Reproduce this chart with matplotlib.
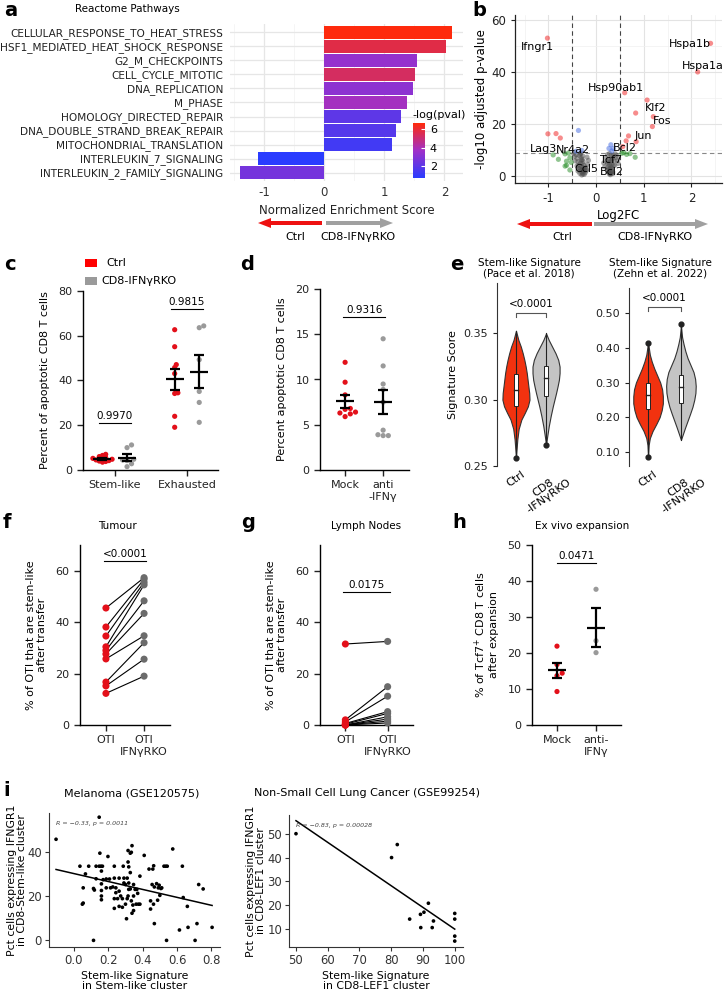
import numpy as np
import matplotlib
matplotlib.use("Agg")
import matplotlib.pyplot as plt
from matplotlib.colors import LinearSegmentedColormap, Normalize
from matplotlib.cm import ScalarMappable
from matplotlib.patches import FancyArrow, Rectangle
from matplotlib.ticker import MultipleLocator

plt.rcParams['font.family'] = ['DejaVu Sans']

# ---------------- data ----------------
# a: Reactome pathways
pathways = ["CELLULAR_RESPONSE_TO_HEAT_STRESS", "HSF1_MEDIATED_HEAT_SHOCK_RESPONSE",
            "G2_M_CHECKPOINTS", "CELL_CYCLE_MITOTIC", "DNA_REPLICATION", "M_PHASE",
            "HOMOLOGY_DIRECTED_REPAIR", "DNA_DOUBLE_STRAND_BREAK_REPAIR",
            "MITOCHONDRIAL_TRANSLATION", "INTERLEUKIN_7_SIGNALING",
            "INTERLEUKIN_2_FAMILY_SIGNALING"]
nes = [2.13, 2.02, 1.54, 1.51, 1.47, 1.38, 1.27, 1.19, 1.13, -1.11, -1.41]
neglogp = [6.6, 5.7, 3.4, 5.3, 3.2, 3.8, 2.0, 1.8, 1.3, 0.7, 2.6]

# b: volcano
red_x = [-1.02, 2.40, 2.13, 0.60, 1.07, 0.83, 1.20, 1.18, 0.68, 0.63, 0.84, -1.01, -0.84, -0.75, 0.56]
red_y = [53.0, 51.0, 40.0, 32.0, 29.2, 24.2, 22.8, 19.0, 15.4, 13.5, 13.2, 16.2, 16.3, 14.6, 11.3]
blue_x = [-0.37, 0.31, 0.27, 0.36, 0.33, -0.42, -0.30]
blue_y = [17.5, 12.0, 10.6, 10.6, 9.6, 9.5, 9.8]
green_x = [-0.90, -0.79, -0.65, -0.62, -0.62, -0.55, -0.65, -0.55, -0.58, -0.52, 0.54, 0.64, 0.82, 0.58, 0.71]
green_y = [8.1, 6.4, 8.5, 5.7, 4.1, 2.3, 3.8, 7.0, 8.8, 5.2, 8.7, 8.3, 7.2, 9.0, 8.6]
gray_x = [-0.45, -0.42, -0.40, -0.38, -0.36, -0.35, -0.34, -0.33, -0.32, -0.31, -0.30, -0.30,
          -0.29, -0.28, -0.28, -0.27, -0.26, -0.25, -0.24, -0.23, -0.22, -0.21, -0.33, -0.31,
          -0.29, -0.27, -0.36, -0.40, -0.44, -0.47, -0.25, -0.30, -0.34, -0.38, -0.32, -0.28,
          -0.18, -0.16, -0.20, -0.19,
          0.20, 0.22, 0.24, 0.25, 0.26, 0.27, 0.28, 0.28, 0.29, 0.30, 0.30, 0.31, 0.32, 0.32,
          0.33, 0.34, 0.35, 0.36, 0.38, 0.40, 0.42, 0.44, 0.26, 0.28, 0.30, 0.32, 0.34, 0.36,
          0.24, 0.27, 0.31, 0.35, 0.39, 0.29, 0.16, 0.18, 0.46, 0.43]
gray_y = [7.5, 8.2, 6.8, 5.5, 4.2, 7.9, 3.1, 5.0, 2.4, 6.1, 1.5, 3.6,
          4.8, 2.2, 0.8, 3.0, 1.8, 4.0, 2.7, 1.2, 3.3, 2.0, 8.4, 7.0,
          6.3, 5.6, 2.8, 3.9, 5.8, 8.6, 0.6, 0.4, 1.0, 1.9, 8.8, 7.7,
          4.5, 6.0, 2.5, 7.2,
          7.0, 5.5, 8.2, 3.6, 1.5, 6.2, 0.8, 4.4, 2.7, 5.1, 1.2, 3.3, 7.6, 2.0,
          4.6, 6.8, 1.6, 3.9, 5.8, 8.5, 7.1, 6.0, 2.3, 8.6, 0.5, 5.9, 2.9, 8.0,
          4.9, 3.0, 1.0, 0.9, 4.1, 6.6, 5.0, 3.5, 4.8, 7.9]
gene_labels = ["Ifngr1", "Hspa1b", "Hspa1a", "Hsp90ab1", "Klf2", "Fos", "Jun",
               "Lag3", "Nr4a2", "Bcl2", "Tcf7", "Bcl2", "Ccl5"]
gene_lx = [-1.22, 1.97, 2.24, 0.41, 1.25, 1.38, 0.99, -1.10, -0.48, 0.61, 0.31, 0.33, -0.20]
gene_ly = [49.7, 50.6, 42.4, 33.7, 26.0, 21.3, 15.5, 10.4, 10.1, 10.6, 6.2, 1.7, 2.7]

# c: apoptotic CD8 T cells
c_groups = ["Stem-like", "Exhausted"]
c_stem_ctrl = [7.0, 6.5, 6.0, 5.5, 5.2, 5.0, 4.8, 4.5, 4.2, 4.0, 3.8, 3.5]
c_stem_ko = [11.2, 10.0, 4.8, 4.5, 4.2, 2.8, 1.5]
c_exh_ctrl = [62.7, 55.1, 47.1, 45.8, 43.1, 34.5, 34.2, 24.0, 19.1]
c_exh_ko = [64.4, 63.6, 49.3, 35.1, 30.2, 21.3]
c_pvals = ["0.9970", "0.9815"]

# d
d_cats = ["Mock", "anti\n-IFNγ"]
d_mock = [11.9, 9.7, 8.3, 6.8, 6.4, 6.2, 5.9, 6.3, 6.7]
d_anti = [14.5, 11.5, 9.5, 8.9, 7.5, 4.4, 3.9, 3.8, 3.8]

# e: violin density profiles (value, relative width) and box stats
e_cats = ["Ctrl", "CD8\n-IFNγRKO"]
pace_ctrl_v = [0.256, 0.262, 0.270, 0.278, 0.285, 0.290, 0.295, 0.300, 0.305, 0.310,
               0.315, 0.320, 0.325, 0.330, 0.335, 0.340, 0.345, 0.352]
pace_ctrl_w = [0.0, 0.04, 0.10, 0.20, 0.40, 0.65, 0.88, 1.0, 0.98, 0.92,
               0.86, 0.80, 0.72, 0.62, 0.50, 0.36, 0.18, 0.0]
pace_ko_v = [0.266, 0.272, 0.280, 0.288, 0.295, 0.300, 0.305, 0.310, 0.315, 0.320,
             0.325, 0.330, 0.335, 0.340, 0.345, 0.350]
pace_ko_w = [0.0, 0.08, 0.20, 0.35, 0.50, 0.62, 0.74, 0.85, 0.95, 1.0,
             1.0, 0.90, 0.70, 0.45, 0.20, 0.0]
pace_ctrl_box = [0.256, 0.295, 0.307, 0.319, 0.352]
pace_ko_box = [0.266, 0.3025, 0.316, 0.3255, 0.350]
zehn_ctrl_v = [0.085, 0.12, 0.14, 0.16, 0.18, 0.20, 0.22, 0.24, 0.26, 0.28, 0.30,
               0.32, 0.34, 0.36, 0.38, 0.40, 0.415]
zehn_ctrl_w = [0.0, 0.04, 0.12, 0.30, 0.55, 0.78, 0.92, 1.0, 1.0, 0.95, 0.82,
               0.62, 0.42, 0.25, 0.12, 0.05, 0.0]
zehn_ko_v = [0.135, 0.15, 0.17, 0.19, 0.21, 0.23, 0.25, 0.27, 0.29, 0.31, 0.33,
             0.35, 0.37, 0.39, 0.41, 0.43, 0.45, 0.465]
zehn_ko_w = [0.0, 0.12, 0.28, 0.45, 0.62, 0.78, 0.90, 0.98, 1.0, 0.96, 0.85,
             0.65, 0.45, 0.30, 0.18, 0.08, 0.03, 0.0]
zehn_ctrl_box = [0.085, 0.225, 0.264, 0.300, 0.415]
zehn_ko_box = [0.135, 0.240, 0.287, 0.322, 0.468]

# f, g: paired OTI
fg_cats = ["OTI", "OTI\nIFNγRKO"]
f_oti = [45.5, 38.1, 34.6, 30.4, 29.0, 27.6, 25.7, 16.7, 15.2, 12.3]
f_ko = [57.3, 56.7, 55.5, 54.5, 48.3, 43.4, 34.7, 32.0, 25.6, 19.0]
g_oti = [31.5, 2.0, 1.2, 0.6, 0.3, 0.0, 0.0, 0.0, 0.0]
g_ko = [32.5, 14.9, 11.2, 5.2, 4.5, 3.2, 2.3, 1.5, 0.8]

# h
h_cats = ["Mock", "anti-\nIFNγ"]
h_mock = [21.9, 16.8, 14.4, 13.7, 9.3]
h_anti = [37.7, 23.4, 20.1]

# i: correlations
mel_sig = [-0.104, 0.147, 0.035, 0.086, 0.067, 0.054, 0.049, 0.054, 0.114, 0.119,
           0.129, 0.129, 0.147, 0.157, 0.166, 0.151, 0.160, 0.160, 0.160, 0.160,
           0.160, 0.170, 0.198, 0.235, 0.188, 0.207, 0.188, 0.213, 0.226, 0.235,
           0.263, 0.244, 0.235, 0.254, 0.244, 0.263, 0.272, 0.263, 0.282, 0.235,
           0.287, 0.291, 0.291, 0.300, 0.310, 0.319, 0.282, 0.306, 0.310, 0.300,
           0.315, 0.328, 0.334, 0.315, 0.319, 0.328, 0.338, 0.347, 0.328, 0.319,
           0.356, 0.347, 0.315, 0.334, 0.343, 0.347, 0.338, 0.362, 0.366, 0.375,
           0.384, 0.371, 0.384, 0.409, 0.437, 0.459, 0.464, 0.481, 0.496, 0.524,
           0.534, 0.543, 0.575, 0.491, 0.506, 0.511, 0.455, 0.468, 0.446, 0.463,
           0.487, 0.446, 0.468, 0.500, 0.631, 0.636, 0.660, 0.614, 0.664, 0.716,
           0.726, 0.752, 0.804, 0.114, 0.539, 0.705]
mel_pct = [45.8, 55.8, 33.6, 33.6, 30.1, 23.8, 16.4, 16.9, 23.5, 22.8,
           27.9, 33.6, 33.6, 33.6, 33.6, 39.5, 31.4, 25.6, 22.6, 20.1,
           18.4, 27.5, 38.0, 33.6, 27.8, 27.8, 23.8, 23.8, 24.2, 28.2,
           28.2, 23.8, 18.9, 18.9, 21.6, 22.3, 20.1, 15.4, 18.9, 14.5,
           33.6, 28.2, 26.0, 25.3, 28.2, 26.0, 15.0, 9.8, 18.9, 16.4,
           40.7, 39.5, 39.9, 35.5, 33.3, 30.7, 42.9, 25.3, 23.3, 23.1,
           23.1, 20.1, 20.1, 17.9, 16.0, 13.5, 12.3, 16.4, 23.1, 16.4,
           16.4, 21.3, 29.1, 38.5, 32.3, 32.3, 33.8, 25.7, 25.0, 33.6,
           33.6, 33.6, 41.4, 23.8, 23.5, 23.8, 25.3, 24.2, 14.2, 16.4,
           18.2, 17.9, 7.6, 20.4, 33.6, 19.4, 15.4, 4.7, 5.9, 7.6,
           25.3, 23.3, 5.9, 0.0, 0.0, 0.0]
nsclc_sig = [50.0, 81.9, 80.1, 91.7, 89.2, 90.3, 85.8, 89.3, 92.9, 93.3, 100, 100, 100, 100]
nsclc_pct = [50.1, 45.5, 40.0, 20.7, 16.0, 16.9, 14.0, 10.4, 10.4, 13.2, 16.4, 14.0, 6.8, 4.7]

RED = "#E3101A"
GREY = "#9A9A9A"
DGREY = "#6B6B6B"

# ---------------- figure ----------------
W, H = 726, 996
fig = plt.figure(figsize=(W / 100, H / 100), dpi=100)


def add_ax(x0, y0, x1, y1):
    return fig.add_axes([x0 / W, 1 - y1 / H, (x1 - x0) / W, (y1 - y0) / H])


def ftext(x, y, s, **kw):
    fig.text(x / W, 1 - y / H, s, **kw)


def prism(ax):
    for s in ["top", "right"]:
        ax.spines[s].set_visible(False)
    for s in ["left", "bottom"]:
        ax.spines[s].set_linewidth(1.0)
    ax.tick_params(direction="out", length=4, width=1, labelsize=8, colors="#222222")


def ppu(ax):
    t = ax.transData
    return t.transform((1, 0))[0] - t.transform((0, 0))[0]


def swarm(ax, xc, vals, d=5.2):
    t = ax.transData
    k_px = ppu(ax)
    placed = []
    offs = np.zeros(len(vals))
    for i in np.argsort(vals):
        yp = t.transform((xc, vals[i]))[1]
        cand = 0.0
        for k in range(40):
            cand = ((k + 1) // 2) * (1 if k % 2 else -1) * d * 0.5
            if all((cand - px) ** 2 + (yp - py) ** 2 >= d * d for px, py in placed):
                break
        placed.append((cand, yp))
        offs[i] = cand / k_px
    return offs


def mean_sem(ax, xc, vals, half_px=9, cap_px=5):
    v = np.asarray(vals)
    m = v.mean()
    se = v.std(ddof=1) / np.sqrt(len(v))
    hw = half_px / ppu(ax)
    cw = cap_px / ppu(ax)
    kw = dict(color="black", lw=1.6, zorder=5, solid_capstyle="butt")
    ax.plot([xc - hw, xc + hw], [m, m], **kw)
    ax.plot([xc, xc], [m - se, m + se], **kw)
    ax.plot([xc - cw, xc + cw], [m + se, m + se], **kw)
    ax.plot([xc - cw, xc + cw], [m - se, m - se], **kw)


def dots(ax, xc, vals, color, s=14, d=5.2):
    off = swarm(ax, xc, vals, d)
    ax.scatter(xc + off, vals, s=s, color=color, edgecolor="none", zorder=3, clip_on=False)
    mean_sem(ax, xc, vals)


def pline(ax, x1, x2, y, txt, fs=7.5):
    ax.plot([x1, x2], [y, y], color="black", lw=0.8, clip_on=False)
    ax.annotate(txt, ((x1 + x2) / 2, y), xytext=(0, 1.5), textcoords="offset points",
                ha="center", va="bottom", fontsize=fs, annotation_clip=False)


# ---- a ----
cmap_a = LinearSegmentedColormap.from_list("nes", ["#2a3cff", "#a030c8", "#ff2a0a"])
norm_a = Normalize(0.69, 6.66)
axa = add_ax(230, 24, 463, 181)
ya = np.arange(len(pathways))
axa.barh(ya, nes, height=0.9, color=cmap_a(norm_a(np.array(neglogp))), zorder=3)
axa.set_ylim(len(pathways) - 0.4, -0.6)
axa.set_xlim(-1.57, 2.31)
axa.set_yticks(ya, pathways, fontsize=7.6, color="#222222")
axa.set_xticks([-1, 0, 1, 2], ["-1", "0", "1", "2"], fontsize=8.5, color="#333333")
axa.xaxis.set_minor_locator(MultipleLocator(0.5))
axa.tick_params(length=0, which="both")
axa.tick_params(axis="y", pad=5)
axa.grid(True, which="major", color="#E6E6E6", lw=0.9)
axa.grid(True, which="minor", axis="x", color="#F2F2F2", lw=0.5)
axa.set_axisbelow(True)
for s in axa.spines.values():
    s.set_visible(False)
axa.set_xlabel("Normalized Enrichment Score", fontsize=8.5, color="#222222", labelpad=4)
ftext(127, 9, "Reactome Pathways", fontsize=7.5, ha="center", va="center")
cax = add_ax(413, 123, 425, 178)
cb = fig.colorbar(ScalarMappable(norm=norm_a, cmap=cmap_a), cax=cax, ticks=[2, 4, 6])
cb.outline.set_visible(False)
cax.tick_params(labelsize=8, length=3, color="white", direction="in")
ftext(412, 115, "-log(pval)", fontsize=8, ha="left", va="center")

# ---- b ----
axb = add_ax(515, 15, 722, 183)
axb.set_xlim(-1.70, 2.64)
axb.set_ylim(-2.7, 61.9)
axb.set_xticks([-1, 0, 1, 2], ["-1", "0", "1", "2"])
axb.set_yticks([0, 20, 40, 60])
axb.xaxis.set_minor_locator(MultipleLocator(0.5))
axb.yaxis.set_minor_locator(MultipleLocator(10))
axb.grid(True, which="major", color="#E3E3E3", lw=0.8)
axb.grid(True, which="minor", color="#F0F0F0", lw=0.5)
axb.set_axisbelow(True)
for s in ["top", "right"]:
    axb.spines[s].set_visible(False)
for s in ["left", "bottom"]:
    axb.spines[s].set_color("#222222")
    axb.spines[s].set_linewidth(0.9)
axb.tick_params(labelsize=8.5, length=3, colors="#222222", which="major")
axb.tick_params(which="minor", length=0)
axb.scatter(gray_x, gray_y, s=14, color="#4D4D4D", alpha=0.5, edgecolor="none", zorder=3)
axb.scatter(green_x, green_y, s=14, color="#228B22", alpha=0.5, edgecolor="none", zorder=3)
axb.scatter(blue_x, blue_y, s=14, color="#4169E1", alpha=0.5, edgecolor="none", zorder=3)
axb.scatter(red_x, red_y, s=14, color="#EE0000", alpha=0.45, edgecolor="none", zorder=3)
for xv in (-0.5, 0.5):
    axb.axvline(xv, color="#444444", lw=0.8, dashes=(4, 3), zorder=2)
axb.axhline(9, color="#888888", lw=0.8, dashes=(4, 3), zorder=2)
for lab, lx, ly in zip(gene_labels, gene_lx, gene_ly):
    axb.text(lx, ly, lab, fontsize=8, ha="center", va="center", zorder=4)
axb.set_xlabel("Log2FC", fontsize=8.5, labelpad=3)
axb.set_ylabel("-log10 adjusted p-value", fontsize=8.5, labelpad=2)

# ---- c ----
axc = add_ax(83, 291, 218, 470)
prism(axc)
axc.set_xlim(-0.44, 1.43)
axc.set_ylim(0, 80)
axc.set_yticks([0, 20, 40, 60, 80])
axc.set_xticks([0, 1], c_groups)
c_sets = [(c_stem_ctrl, c_stem_ko), (c_exh_ctrl, c_exh_ko)]
for gi, (ctrl, ko) in enumerate(c_sets):
    dots(axc, gi - 0.17, ctrl, RED, d=3.2)
    dots(axc, gi + 0.17, ko, GREY, d=4.5)
pline(axc, -0.22, 0.22, 21, c_pvals[0])
pline(axc, 0.78, 1.22, 72, c_pvals[1])
axc.set_ylabel("Percent of apoptotic CD8 T cells", fontsize=8, labelpad=6)

# ---- d ----
axd = add_ax(320, 289, 409, 470)
prism(axd)
axd.set_xlim(-0.66, 1.68)
axd.set_ylim(0, 20)
axd.set_yticks([0, 5, 10, 15, 20])
axd.set_xticks([0, 1], d_cats)
dots(axd, 0, d_mock, RED)
dots(axd, 1, d_anti, GREY)
pline(axd, -0.05, 1.05, 16.9, "0.9316")
axd.set_ylabel("Percent apoptotic CD8 T cells", fontsize=8, labelpad=6)


# ---- e ----
def violin(ax, xc, v, w, color, box, maxw=0.45):
    w = np.asarray(w) * maxw
    ax.fill_betweenx(v, xc - w, xc + w, facecolor=color, edgecolor="#333333", lw=0.8, zorder=2)
    lo, q1, med, q3, hi = box
    ax.plot([xc, xc], [lo, hi], color="#222222", lw=0.8, zorder=3)
    bw = 0.07
    ax.add_patch(Rectangle((xc - bw, q1), 2 * bw, q3 - q1, facecolor="white",
                           edgecolor="#222222", lw=0.7, zorder=4))
    ax.plot([xc - bw, xc + bw], [med, med], color="#222222", lw=1.0, zorder=5)


def bracket(ax, x1, x2, y, drop, txt):
    ax.plot([x1, x1, x2, x2], [y - drop, y, y, y - drop], color="#555555", lw=0.8)
    ax.annotate(txt, ((x1 + x2) / 2, y), xytext=(0, 3), textcoords="offset points",
                ha="center", va="bottom", fontsize=7.5)


def e_style(ax):
    for s in ["top", "right", "bottom"]:
        ax.spines[s].set_visible(False)
    ax.spines["left"].set_color("#333333")
    ax.tick_params(axis="y", labelsize=8, length=3, colors="#222222")
    ax.tick_params(axis="x", length=0, labelsize=8, pad=2)
    ax.set_xticks([0, 1])
    ax.set_xticklabels(e_cats, rotation=35, ha="center", va="top", linespacing=1.0)


axe1 = add_ax(497, 283, 565, 466)
e_style(axe1)
axe1.set_xlim(-0.63, 1.63)
axe1.set_ylim(0.25, 0.388)
axe1.set_yticks([0.25, 0.30, 0.35], ["0.25", "0.30", "0.35"])
violin(axe1, 0, pace_ctrl_v, pace_ctrl_w, "#F2320F", pace_ctrl_box)
violin(axe1, 1, pace_ko_v, pace_ko_w, "#C4C4C4", pace_ko_box)
axe1.scatter([0, 1], [pace_ctrl_box[0], pace_ko_box[0]], s=12, color="#222222", zorder=6, clip_on=False)
bracket(axe1, 0, 1, 0.365, 0.003, "<0.0001")
axe1.set_ylabel("Signature Score", fontsize=8, labelpad=4)

axe2 = add_ax(629, 288, 700, 466)
e_style(axe2)
axe2.set_xlim(-0.58, 1.58)
axe2.set_ylim(0.0597, 0.572)
axe2.set_yticks([0.10, 0.20, 0.30, 0.40, 0.50], ["0.10", "0.20", "0.30", "0.40", "0.50"])
violin(axe2, 0, zehn_ctrl_v, zehn_ctrl_w, "#F2320F", zehn_ctrl_box)
violin(axe2, 1, zehn_ko_v, zehn_ko_w, "#C4C4C4", zehn_ko_box)
axe2.scatter([0, 0, 1], [zehn_ctrl_box[0], zehn_ctrl_box[4], zehn_ko_box[4]], s=12,
             color="#222222", zorder=6)
bracket(axe2, 0, 1, 0.517, 0.011, "<0.0001")
ftext(529, 268, "Stem-like Signature\n(Pace et al. 2018)", fontsize=7.5, ha="center",
      va="center", linespacing=1.1)
ftext(660, 268, "Stem-like Signature\n(Zehn et al. 2022)", fontsize=7.5, ha="center",
      va="center", linespacing=1.1)


# ---- f, g ----
def paired(ax, a, b, ko_color):
    for ya_, yb_ in zip(a, b):
        ax.plot([0, 1], [ya_, yb_], color="black", lw=0.8, zorder=2)
    ax.scatter(np.zeros(len(a)), a, s=26, color=RED, edgecolor="none", zorder=3, clip_on=False)
    ax.scatter(np.ones(len(b)), b, s=26, color=ko_color, edgecolor="none", zorder=3, clip_on=False)


axf = add_ax(80, 545, 170, 725)
prism(axf)
axf.set_xlim(-0.68, 1.68)
axf.set_ylim(0, 70)
axf.set_yticks([0, 20, 40, 60])
axf.set_xticks([0, 1], fg_cats)
paired(axf, f_oti, f_ko, DGREY)
pline(axf, -0.05, 1.05, 63.9, "<0.0001")
axf.set_ylabel("% of OTI that are stem-like\nafter transfer", fontsize=8, labelpad=6)
ftext(117, 526, "Tumour", fontsize=7.5, ha="center", va="center")

axg = add_ax(320, 545, 413, 725)
prism(axg)
axg.set_xlim(-0.6, 1.6)
axg.set_ylim(0, 70)
axg.set_yticks([0, 20, 40, 60])
axg.set_xticks([0, 1], fg_cats)
paired(axg, g_oti, g_ko, DGREY)
pline(axg, -0.05, 1.05, 51.8, "0.0175")
axg.set_ylabel("% of OTI that are stem-like\nafter transfer", fontsize=8, labelpad=6)
ftext(366, 526, "Lymph Nodes", fontsize=7.5, ha="center", va="center")

# ---- h ----
axh = add_ax(532, 545, 621, 725)
prism(axh)
axh.set_xlim(-0.64, 1.64)
axh.set_ylim(0, 50)
axh.set_yticks([0, 10, 20, 30, 40, 50])
axh.set_xticks([0, 1], h_cats)
dots(axh, 0, h_mock, RED)
dots(axh, 1, h_anti, GREY)
pline(axh, 0.0, 1.0, 45, "0.0471")
axh.set_ylabel("% of Tcf7$^{+}$ CD8 T cells\nafter expansion", fontsize=8, labelpad=6)
ftext(582, 526, "Ex vivo expansion", fontsize=7.5, ha="center", va="center")


# ---- i ----
def corr(ax, x, y, txt):
    for s in ["top", "right"]:
        ax.spines[s].set_visible(False)
    for s in ["left", "bottom"]:
        ax.spines[s].set_color("#333333")
        ax.spines[s].set_linewidth(0.8)
    ax.tick_params(labelsize=8.4, length=3, pad=2, colors="#333333")
    x = np.asarray(x, float)
    y = np.asarray(y, float)
    ax.scatter(x, y, s=7, color="black", edgecolor="none", zorder=3, clip_on=False)
    k, c0 = np.polyfit(x, y, 1)
    xs = np.array([x.min(), x.max()])
    ax.plot(xs, k * xs + c0, color="black", lw=1.1, zorder=2)
    ax.text(0.04, 0.92, txt, transform=ax.transAxes, fontsize=4.5, style="italic",
            color="#444444", ha="left", va="center")


lab_kw = dict(fontsize=7.8, linespacing=1.0)

axi1 = add_ax(49, 813, 220, 947)
axi1.set_xlim(-0.145, 0.85)
axi1.set_ylim(-3, 57.7)
axi1.set_xticks([0.0, 0.2, 0.4, 0.6, 0.8], ["0.0", "0.2", "0.4", "0.6", "0.8"])
axi1.set_yticks([0, 20, 40])
corr(axi1, mel_sig, mel_pct, "R = −0.33, p = 0.0011")
axi1.set_xlabel("Stem-like Signature\nin Stem-like cluster", labelpad=3, **lab_kw)
axi1.set_ylabel("Pct cells expressing IFNGR1\nin CD8-Stem-like cluster", **lab_kw)
axi1.yaxis.set_label_coords(-0.13, 0.5)
ftext(132, 793, "Melanoma (GSE120575)", fontsize=8, ha="center", va="center")

axi2 = add_ax(289, 815, 463, 947)
axi2.set_xlim(47.8, 102.6)
axi2.set_ylim(2.2, 58)
axi2.set_xticks([50, 60, 70, 80, 90, 100])
axi2.set_yticks([10, 20, 30, 40, 50])
corr(axi2, nsclc_sig, nsclc_pct, "R = −0.83, p = 0.00028")
axi2.set_xlabel("Stem-like Signature\nin CD8-LEF1 cluster", labelpad=3, **lab_kw)
axi2.set_ylabel("Pct cells expressing IFNGR1\nin CD8-LEF1 cluster", labelpad=1, **lab_kw)
ftext(367, 793, "Non-Small Cell Lung Cancer (GSE99254)", fontsize=8, ha="center", va="center")

# ---- panel letters ----
for lt, lx, ly in [("a", 4, 10), ("b", 472, 10), ("c", 4, 264), ("d", 240, 264),
                   ("e", 450, 265), ("f", 3, 522), ("g", 241, 523), ("h", 452, 522),
                   ("i", 3, 790)]:
    ftext(lx, ly, lt, fontsize=14, fontweight="bold", ha="left", va="center")

# ---- overlay: direction arrows and legend ----
ov = fig.add_axes([0, 0, 1, 1])
ov.set_xlim(0, W)
ov.set_ylim(H, 0)
ov.axis("off")
ov.patch.set_alpha(0)
akw = dict(width=4, head_width=10, head_length=13, length_includes_head=True, lw=0)
ov.add_patch(FancyArrow(322, 223, -64, 0, color="#EE1111", **akw))
ov.add_patch(FancyArrow(326, 223, 67, 0, color="#A0A0A0", **akw))
ov.add_patch(FancyArrow(592, 224, -75, 0, color="#EE1111", **akw))
ov.add_patch(FancyArrow(594, 224, 114, 0, color="#A0A0A0", **akw))
ftext(295, 237, "Ctrl", fontsize=8, ha="center", va="center")
ftext(358, 237, "CD8-IFNγRKO", fontsize=8, ha="center", va="center")
ftext(562, 237, "Ctrl", fontsize=8, ha="center", va="center")
ftext(655, 237, "CD8-IFNγRKO", fontsize=8, ha="center", va="center")
ov.add_patch(Rectangle((85, 259), 12, 8, color="#FF0000", lw=0))
ov.add_patch(Rectangle((85, 277), 12, 8, color=GREY, lw=0))
ftext(106, 263, "Ctrl", fontsize=8, ha="left", va="center")
ftext(101, 281, "CD8-IFNγRKO", fontsize=8, ha="left", va="center")

fig.savefig("out.png", dpi=100)
